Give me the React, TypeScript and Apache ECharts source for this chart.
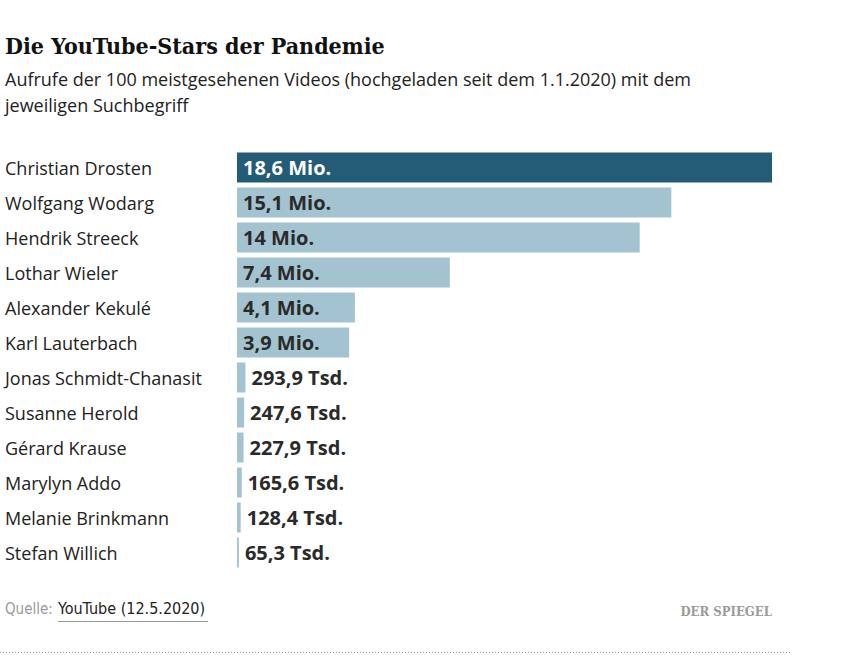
import React, { useEffect, useRef } from "react";
import * as echarts from "echarts";

const names = [
  "Christian Drosten",
  "Wolfgang Wodarg",
  "Hendrik Streeck",
  "Lothar Wieler",
  "Alexander Kekulé",
  "Karl Lauterbach",
  "Jonas Schmidt-Chanasit",
  "Susanne Herold",
  "Gérard Krause",
  "Marylyn Addo",
  "Melanie Brinkmann",
  "Stefan Willich",
];
const views = [18600000, 15100000, 14000000, 7400000, 4100000, 3900000, 293900, 247600, 227900, 165600, 128400, 65300];

const title = "Die YouTube-Stars der Pandemie";
const subtitle1 = "Aufrufe der 100 meistgesehenen Videos (hochgeladen seit dem 1.1.2020) mit dem";
const subtitle2 = "jeweiligen Suchbegriff";
const sourceLabel = "Quelle:";
const sourceText = "YouTube (12.5.2020)";
const brand = "DER SPIEGEL";

const DARK = "#245b77";
const LIGHT = "#a4c3d0";

function fmt(v: number): string {
  if (v >= 1e6) {
    const m = v / 1e6;
    const s = Number.isInteger(m) ? String(m) : m.toFixed(1);
    return s.replace(".", ",") + " Mio.";
  }
  return (v / 1000).toFixed(1).replace(".", ",") + " Tsd.";
}

export default function App() {
  const ref = useRef<HTMLDivElement>(null);
  useEffect(() => {
    if (!ref.current) return;
    const chart = echarts.init(ref.current, null, { renderer: "svg" });
    const data = views.map((v, i) => ({
      value: v,
      itemStyle: { color: i === 0 ? DARK : LIGHT },
      label: {
        show: true,
        position: v >= 1e6 ? "insideLeft" : "right",
        distance: 6,
        color: i === 0 ? "#ffffff" : "#2a2a2a",
        formatter: () => fmt(v),
      },
    }));
    chart.setOption({
      animation: false,
      grid: { left: 237, right: 79, top: 150, bottom: 90, containLabel: false },
      xAxis: { type: "value", min: 0, max: 18600000, show: false },
      yAxis: {
        type: "category",
        data: names,
        inverse: true,
        axisLine: { show: false },
        axisTick: { show: false },
        axisLabel: {
          align: "left",
          margin: 232,
          fontSize: 18,
          color: "#222222",
          fontFamily: "Open Sans",
        },
      },
      series: [
        {
          type: "bar",
          data,
          barWidth: 30,
          label: {
            fontSize: 20,
            fontWeight: "bold",
            fontFamily: "Open Sans",
          },
        },
      ],
      graphic: [
        {
          type: "text",
          left: 5,
          top: 34,
          style: { text: title, font: "bold 23px 'DejaVu Serif Condensed'", fill: "#111111" },
        },
        {
          type: "text",
          left: 5,
          top: 70,
          style: { text: subtitle1, font: "18px 'Open Sans'", fill: "#222222" },
        },
        {
          type: "text",
          left: 5,
          top: 96,
          style: { text: subtitle2, font: "18px 'Open Sans'", fill: "#222222" },
        },
        {
          type: "text",
          left: 5,
          top: 601,
          style: { text: sourceLabel, font: "15px 'DejaVu Sans Condensed'", fill: "#999999" },
        },
        {
          type: "text",
          left: 58,
          top: 600,
          style: { text: sourceText, font: "16px 'DejaVu Sans Condensed'", fill: "#222222" },
        },
        {
          type: "line",
          shape: { x1: 58, y1: 621.5, x2: 208, y2: 621.5 },
          style: { stroke: "#999999", lineWidth: 1 },
        },
        {
          type: "text",
          right: 79,
          top: 605,
          style: { text: brand, font: "bold 13px 'DejaVu Serif Condensed'", fill: "#9a9a9a" },
        },
        {
          type: "line",
          shape: { x1: 0, y1: 652.5, x2: 790, y2: 652.5 },
          style: { stroke: "#999999", lineWidth: 1, lineDash: [1, 2] },
        },
      ],
    });
    return () => chart.dispose();
  }, []);
  return (
    <div
      ref={ref}
      style={{ position: "absolute", left: 0, top: 0, width: 851, height: 660, background: "#ffffff" }}
    />
  );
}
